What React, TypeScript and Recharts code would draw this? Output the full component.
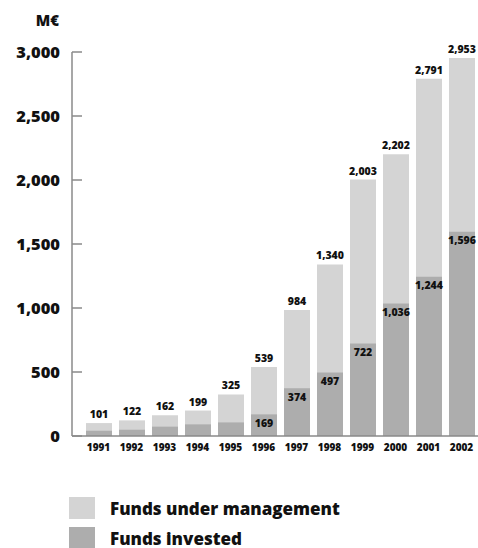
import { BarChart, Bar, XAxis, YAxis, LabelList } from "recharts";

// values in M€
const years = ["1991", "1992", "1993", "1994", "1995", "1996", "1997", "1998", "1999", "2000", "2001", "2002"];
const fundsUnderManagement = [101, 122, 162, 199, 325, 539, 984, 1340, 2003, 2202, 2791, 2953];
const fundsInvested = [41, 49, 73, 91, 106, 169, 374, 497, 722, 1036, 1244, 1596];
const investedLabelled = [false, false, false, false, false, true, true, true, true, true, true, true];
const yTicks = [0, 500, 1000, 1500, 2000, 2500, 3000];

const LIGHT = "#d4d4d4";
const DARK = "#adadad";
const AXIS = "#8a8a8a";
const FONT = "'Open Sans', sans-serif";
const AXIS_X = 72;

const data = years.map((year, i) => ({
    year,
    managed: fundsUnderManagement[i],
    invested: fundsInvested[i],
    investedLabel: investedLabelled[i] ? fundsInvested[i] : null,
}));

const fmt = (v: any) => (v == null ? "" : Number(v).toLocaleString("en-US"));

const labelStyle = { fontFamily: FONT, fontWeight: 800, fontSize: 10.5, fill: "#111" };

function YTick({ y, payload }: any) {
    return (
        <g>
            <line x1={AXIS_X} x2={AXIS_X + 10} y1={y} y2={y} stroke={AXIS} strokeWidth={1.5} />
            <text x={AXIS_X - 12} y={y} dy="0.35em" textAnchor="end"
                style={{ fontFamily: FONT, fontWeight: 800, fontSize: 16.5, fill: "#111" }}>
                {fmt(payload.value)}
            </text>
        </g>
    );
}

const swatch = (color: string) => ({ width: 26, height: 22, background: color, flex: "none" as const });

export default function App() {
    return (
        <div style={{ position: "absolute", left: 0, top: 0, width: 478, height: 548, fontFamily: FONT, background: "#fff" }}>
            <div style={{ position: "absolute", right: 478 - 59, top: 10, fontSize: 15, fontWeight: 800, color: "#111" }}>M€</div>
            <BarChart width={478} height={460} data={data} barGap={-26} barSize={26}
                margin={{ top: 52, right: 0, left: 0, bottom: 0 }}>
                <XAxis dataKey="year" padding={{ left: 10, right: 0 }} tickLine={false}
                    axisLine={{ stroke: AXIS, strokeWidth: 1.5 }} interval={0}
                    tick={{ fontFamily: FONT, fontWeight: 800, fontSize: 10, fill: "#111" }} height={24} />
                <YAxis width={AXIS_X} domain={[0, 3000]} ticks={yTicks} tickLine={false}
                    axisLine={{ stroke: AXIS, strokeWidth: 1.5 }} tick={<YTick />} />
                <Bar dataKey="managed" fill={LIGHT} isAnimationActive={false}>
                    <LabelList dataKey="managed" position="top" offset={5} formatter={fmt} style={labelStyle} />
                </Bar>
                <Bar dataKey="invested" fill={DARK} isAnimationActive={false}>
                    <LabelList dataKey="investedLabel" position="insideTop" offset={5} formatter={fmt} style={labelStyle} />
                </Bar>
            </BarChart>
            <div style={{ position: "absolute", left: 69, top: 497, fontSize: 17, fontWeight: 800, color: "#111" }}>
                <div style={{ display: "flex", alignItems: "center", gap: 15, height: 22, marginBottom: 8 }}>
                    <div style={swatch(LIGHT)} />
                    <span>Funds under management</span>
                </div>
                <div style={{ display: "flex", alignItems: "center", gap: 15, height: 22 }}>
                    <div style={swatch(DARK)} />
                    <span>Funds invested</span>
                </div>
            </div>
        </div>
    );
}
